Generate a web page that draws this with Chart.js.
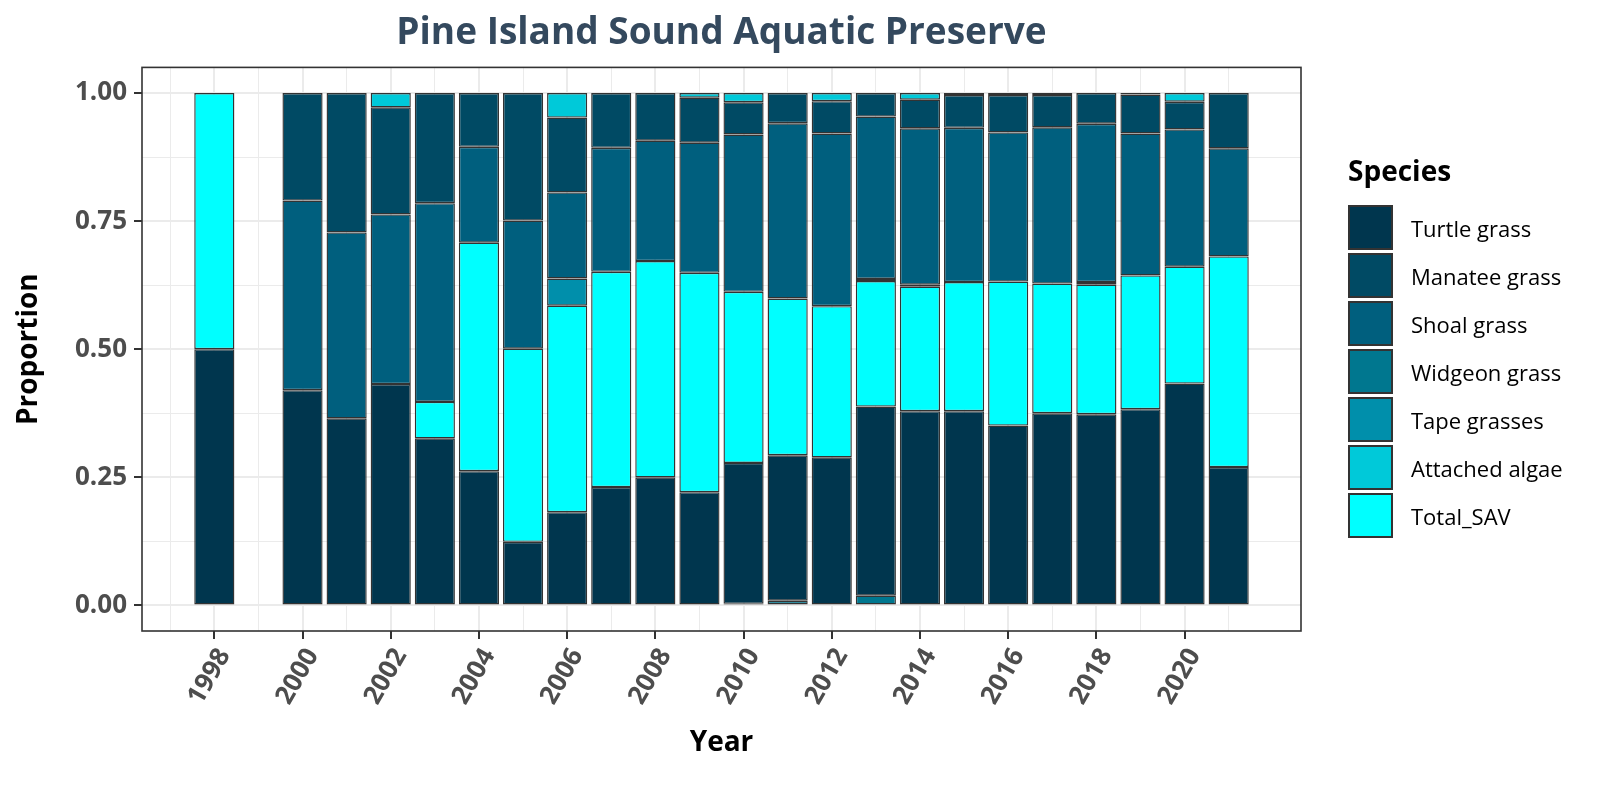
<!DOCTYPE html>
<html>
<head>
<meta charset="utf-8">
<script src="https://cdn.jsdelivr.net/npm/chart.js@4"></script>
<style>
  body { margin: 0; background: #fff; }
  #wrap { position: relative; width: 1600px; height: 800px; }
  #legend { position: absolute; left: 1348px; top: 154px; font-family: "Open Sans", sans-serif; }
  #legend .ttl { font-weight: bold; font-size: 28px; line-height: 32px; height: 32px; margin-bottom: 19px; color: #000; }
  #legend ul { list-style: none; margin: 0; padding: 0; }
</style>
</head>
<body>
<div id="wrap">
  <canvas id="chart" width="1600" height="800"></canvas>
  <div id="legend"><div class="ttl">Species</div><ul id="legend-list"></ul></div>
</div>
<script>
// years sampled (no 1999 survey)
const years = [1998, 2000, 2001, 2002, 2003, 2004, 2005, 2006, 2007, 2008, 2009, 2010,
  2011, 2012, 2013, 2014, 2015, 2016, 2017, 2018, 2019, 2020, 2021];

// proportions per species, aligned with years (null = not recorded)
const turtleGrass   = [0.500, 0.420, 0.365, 0.432, 0.326, 0.262, 0.124, 0.182, 0.231, 0.250, 0.221, 0.275,
  0.284, 0.289, 0.369, 0.379, 0.379, 0.351, 0.375, 0.373, 0.383, 0.433, 0.270];
const manateeGrass  = [null, 0.210, 0.272, 0.209, 0.215, 0.105, 0.249, 0.146, 0.107, 0.093, 0.088, 0.063,
  0.059, 0.063, 0.046, 0.056, 0.064, 0.073, 0.063, 0.060, 0.076, 0.054, 0.108];
const shoalGrass    = [null, 0.370, 0.363, 0.331, 0.388, 0.187, 0.250, 0.168, 0.242, 0.235, 0.254, 0.307,
  0.342, 0.337, 0.317, 0.305, 0.301, 0.291, 0.305, 0.309, 0.277, 0.268, 0.211];
const widgeonGrass  = [null, null, null, null, null, null, null, null, null, null, null, 0.003,
  0.009, null, 0.019, null, null, null, null, null, null, null, null];
const tapeGrasses   = [null, null, null, null, null, null, null, 0.053, null, null, null, null,
  null, null, 0.004, 0.004, null, null, null, 0.005, null, null, null];
const attachedAlgae = [null, null, null, 0.028, null, null, null, 0.048, null, null, 0.009, 0.018,
  null, 0.016, null, 0.013, 0.004, 0.004, 0.004, null, 0.003, 0.017, null];
const totalSAV      = [0.500, null, null, null, 0.071, 0.446, 0.377, 0.403, 0.420, 0.422, 0.428, 0.334,
  0.306, 0.295, 0.245, 0.243, 0.252, 0.281, 0.253, 0.253, 0.261, 0.228, 0.411];

const xTickLabels = ['1998', '2000', '2002', '2004', '2006', '2008', '2010', '2012', '2014', '2016', '2018', '2020'];
const yTickLabels = ['0.00', '0.25', '0.50', '0.75', '1.00'];

// stacking order bottom -> top, legend order separately
const species = [
  { name: 'Widgeon grass', values: widgeonGrass, color: '#00778F' },
  { name: 'Turtle grass', values: turtleGrass, color: '#00364E' },
  { name: 'Total_SAV', values: totalSAV, color: '#00FFFF' },
  { name: 'Tape grasses', values: tapeGrasses, color: '#008FAB' },
  { name: 'Shoal grass', values: shoalGrass, color: '#005F7E' },
  { name: 'Manatee grass', values: manateeGrass, color: '#004A64' },
  { name: 'Attached algae', values: attachedAlgae, color: '#00C9D9' },
];
const legendOrder = ['Turtle grass', 'Manatee grass', 'Shoal grass', 'Widgeon grass',
  'Tape grasses', 'Attached algae', 'Total_SAV'];

const FONT = '"Open Sans", "Noto Sans", sans-serif';
const outline = '#333333';

const datasets = species.map(s => ({
  label: s.name,
  data: years.map((yr, i) => ({ x: yr, y: s.values[i] })),
  backgroundColor: s.color,
  borderColor: outline,
  borderWidth: 1.4,
  borderSkipped: false,
  categoryPercentage: 0.91,
  barPercentage: 1.0,
}));

const gridYears = [];
for (let y = 1997; y <= 2021; y++) gridYears.push(y);
const gridProps = [0, 0.125, 0.25, 0.375, 0.5, 0.625, 0.75, 0.875, 1];

const isQuarter = (v) => Math.abs(v * 4 - Math.round(v * 4)) < 1e-9;

const panelBorder = {
  id: 'panelBorder',
  afterDraw(c) {
    const a = c.chartArea;
    const ctx = c.ctx;
    ctx.save();
    ctx.strokeStyle = outline;
    ctx.lineWidth = 1.6;
    ctx.strokeRect(a.left, a.top, a.right - a.left, a.bottom - a.top);
    ctx.restore();
  },
};

const htmlLegend = {
  id: 'htmlLegend',
  afterUpdate(c) {
    const ul = document.getElementById('legend-list');
    while (ul.firstChild) ul.firstChild.remove();
    legendOrder.forEach((name) => {
      const ds = c.data.datasets.find(d => d.label === name);
      const li = document.createElement('li');
      li.style.display = 'flex';
      li.style.alignItems = 'center';
      li.style.height = '45px';
      li.style.marginBottom = '3px';
      const box = document.createElement('div');
      box.style.width = '45px';
      box.style.height = '45px';
      box.style.boxSizing = 'border-box';
      box.style.border = '2px solid ' + outline;
      box.style.backgroundColor = ds.backgroundColor;
      const label = document.createElement('div');
      label.style.marginLeft = '18px';
      label.style.fontSize = '22px';
      label.style.color = '#000';
      label.appendChild(document.createTextNode(name));
      li.appendChild(box);
      li.appendChild(label);
      ul.appendChild(li);
    });
  },
};

new Chart(document.getElementById('chart'), {
  type: 'bar',
  data: { datasets },
  options: {
    responsive: false,
    animation: false,
    layout: { padding: { left: 0, right: 299, top: 0, bottom: 0 } },
    scales: {
      x: {
        type: 'linear',
        stacked: true,
        offset: false,
        min: 1996.36,
        max: 2022.64,
        afterBuildTicks: (s) => { s.ticks = gridYears.map(v => ({ value: v })); },
        afterFit: (s) => { s.height = 169; },
        ticks: {
          autoSkip: false,
          minRotation: 60,
          maxRotation: 60,
          padding: 4,
          labelOffset: 10,
          color: '#4D4D4D',
          font: { family: FONT, size: 26, weight: 'bold' },
          callback: (v) => xTickLabels.includes(String(v)) ? String(v) : '',
        },
        grid: {
          offset: false,
          color: '#EBEBEB',
          lineWidth: (ctx) => (ctx.tick && ctx.tick.value % 2 === 0 ? 2 : 1),
          tickColor: (ctx) => (ctx.tick && ctx.tick.value % 2 === 0 ? outline : 'rgba(0,0,0,0)'),
          tickWidth: 2,
          tickLength: 8,
        },
        border: { display: false },
        title: {
          display: true,
          text: 'Year',
          color: '#000',
          font: { family: FONT, size: 28, weight: 'bold' },
          padding: { top: 0, bottom: 40 },
        },
      },
      y: {
        stacked: true,
        min: -0.05,
        max: 1.05,
        afterBuildTicks: (s) => { s.ticks = gridProps.map(v => ({ value: v })); },
        afterFit: (s) => { s.width = 142; },
        ticks: {
          padding: 7,
          color: '#4D4D4D',
          font: { family: FONT, size: 26, weight: 'bold' },
          callback: (v) => {
            const t = v.toFixed(2);
            return yTickLabels.includes(t) && isQuarter(v) ? t : '';
          },
        },
        grid: {
          color: '#EBEBEB',
          lineWidth: (ctx) => (ctx.tick && isQuarter(ctx.tick.value) ? 2 : 1),
          tickColor: (ctx) => (ctx.tick && isQuarter(ctx.tick.value) ? outline : 'rgba(0,0,0,0)'),
          tickWidth: 2,
          tickLength: 8,
        },
        border: { display: false },
        title: {
          display: true,
          text: 'Proportion',
          color: '#000',
          font: { family: FONT, size: 28, weight: 'bold' },
          padding: { top: 12, bottom: 0 },
        },
      },
    },
    plugins: {
      legend: { display: false },
      tooltip: { enabled: false },
      title: {
        display: true,
        text: 'Pine Island Sound Aquatic Preserve',
        fullSize: false,
        color: '#34495E',
        font: { family: FONT, size: 37, weight: 'bold' },
        padding: { top: 11, bottom: 12 },
      },
    },
  },
  plugins: [panelBorder, htmlLegend],
});
</script>
</body>
</html>
